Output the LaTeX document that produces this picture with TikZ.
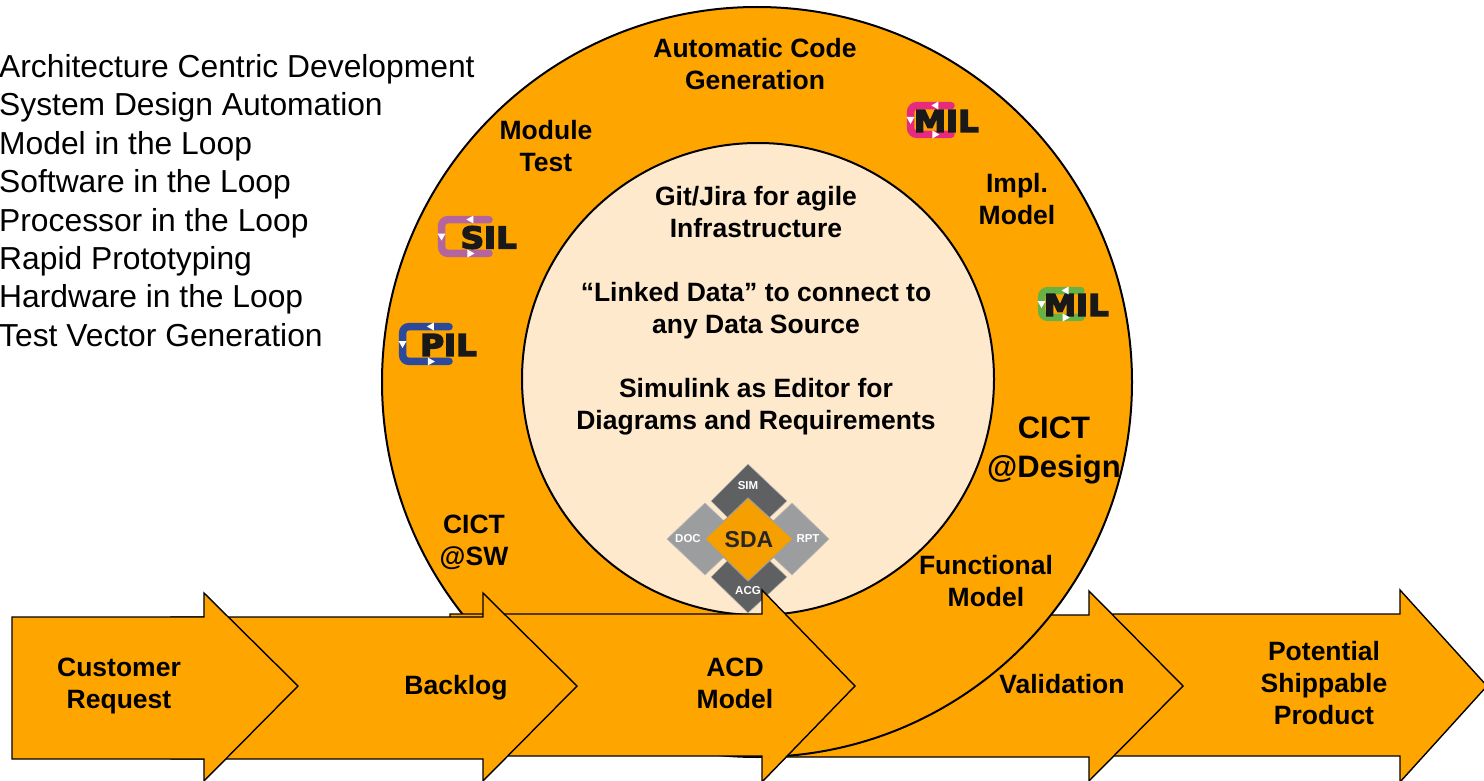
\documentclass[tikz,border=0pt]{standalone}
\usepackage{fontspec}
\setmainfont{Liberation Sans}
\newfontfamily\badgefont[BoldFeatures={FakeBold=5}]{DejaVu Sans}
\definecolor{ringorange}{HTML}{FFA500}
\definecolor{corecream}{HTML}{FFE9CC}
\definecolor{sdaorange}{HTML}{F5A000}
\definecolor{sdadark}{HTML}{5F6062}
\definecolor{sdalight}{HTML}{9C9D9F}
\definecolor{silpurple}{HTML}{B5659E}
\definecolor{pilblue}{HTML}{2B4A9B}
\definecolor{milpink}{HTML}{E62A7E}
\definecolor{milgreen}{HTML}{66B245}
\tikzset{
    flowarrow/.style={draw=black, fill=ringorange, line width=1.4pt, line join=miter},
    ring/.style={draw=black, line width=2pt},
    boldlabel/.style={align=center, inner sep=0pt, font=\bfseries\fontsize{26.5}{32}\selectfont},
    biglabel/.style={align=center, inner sep=0pt, font=\bfseries\fontsize{31}{39}\selectfont},
    sdacell/.style={draw=sdalight!70, line width=0.6pt},
    sdalabel/.style={text=white, inner sep=0pt, font=\bfseries\fontsize{11.5}{12}\selectfont},
    badgetext/.style={inner sep=0pt, anchor=east, text=black!90, xscale=1.08, font=\badgefont\bfseries\fontsize{30}{30}\selectfont},
    looptip/.style={fill=white, draw=none},
}
% loop badge: name, x, y, width, height, colour, text
\newcommand{\loopbadge}[7]{
    \begin{scope}[shift={(#2,#3)}]
        \draw[#6, line width=7.5pt, rounded corners=6pt, line cap=round]
            (#4-4,3.7) -- (3.7,3.7) -- (3.7,#5-3.7) -- (#4-4,#5-3.7);
        \node[badgetext] (#1) at (#4+24,#5/2+1) {#7};
        \fill[looptip] (0.59*#4-4,3.5) -- (0.59*#4+3,-0.5) -- (0.59*#4+3,7.5) -- cycle;
        \fill[looptip] (-0.5,#5/2-3) -- (7.5,#5/2-3) -- (3.5,#5/2+4) -- cycle;
        \fill[looptip] (0.59*#4+4,#5-3.5) -- (0.59*#4-3,#5+0.5) -- (0.59*#4-3,#5-7.5) -- cycle;
    \end{scope}
}
\begin{document}
\begin{tikzpicture}[x=1pt, y=-1pt]
    \useasboundingbox (0,0) rectangle (1484,781);
    % Back arrows
    \draw[flowarrow] (1113,614) -- (1400,614) -- (1400,590) -- (1487,686) -- (1400,782) -- (1400,756) -- (1113,756) -- cycle;
    \draw[flowarrow] (780,615) -- (1089,615) -- (1089,591) -- (1183,686) -- (1089,781) -- (1089,757) -- (780,757) -- cycle;
    % Rings
    \draw[ring, fill=ringorange] (757,382) circle (375pt);
    \draw[ring, fill=corecream] (758,379) circle (236pt);
    % Ring labels
    \node[boldlabel] (codegen) at (755,64) {Automatic Code\\Generation};
    \node[boldlabel] (moduletest) at (546,146) {Module\\Test};
    \node[boldlabel] (implmodel) at (1017,199) {Impl.\\Model};
    \node[boldlabel] (funcmodel) at (986,581) {Functional\\Model};
    \node[boldlabel] (cictsw) at (474,542) {CICT\\@SW};
    \node[biglabel] (cictdesign) at (1054,450) {CICT\\@Design};
    % Core labels
    \node[boldlabel] (gitjira) at (756,212) {Git/Jira for agile\\Infrastructure};
    \node[boldlabel] (linkeddata) at (756,311) {“Linked Data” to connect to\\any Data Source};
    \node[boldlabel] (simulink) at (756,407) {Simulink as Editor for\\Diagrams and Requirements};
    % Badges
    \loopbadge{milpinkbadge}{907}{102}{48}{36}{milpink}{MIL}
    \loopbadge{milgreenbadge}{1038}{287}{47}{34}{milgreen}{MIL}
    \loopbadge{silbadge}{438}{216}{55}{41}{silpurple}{SIL}
    \loopbadge{pilbadge}{399}{323}{54}{42}{pilblue}{PIL}
    % SDA diamond
    \fill[sdacell, fill=sdadark] (748,464) -- (787,501) -- (748,538) -- (711,501) -- cycle;
    \fill[sdacell, fill=sdadark] (748,540) -- (787,577) -- (748,613) -- (711,577) -- cycle;
    \fill[sdacell, fill=sdalight] (667,539) -- (705,503) -- (743,539) -- (705,575) -- cycle;
    \fill[sdacell, fill=sdalight] (829,539) -- (792,503) -- (754,539) -- (792,575) -- cycle;
    \draw[draw=sdalight, line width=1pt, fill=sdaorange] (748,498) -- (793,539) -- (748,581) -- (705,539) -- cycle;
    \node[inner sep=0pt, text=black!85, font=\bfseries\fontsize{23}{24}\selectfont] (sda) at (749,540) {SDA};
    \node[sdalabel] (sim) at (748,486) {SIM};
    \node[sdalabel] (doc) at (688,539) {DOC};
    \node[sdalabel] (rpt) at (808,539) {RPT};
    \node[sdalabel] (acg) at (748,591) {ACG};
    % Front arrows
    \draw[flowarrow] (450,614) -- (762,614) -- (762,590) -- (855,686) -- (762,782) -- (762,756) -- (450,756) -- cycle;
    \draw[flowarrow] (171,617) -- (483,617) -- (483,593) -- (577,686) -- (483,781) -- (483,759) -- (171,759) -- cycle;
    \draw[flowarrow] (12,617) -- (204,617) -- (204,593) -- (298,686) -- (204,781) -- (204,759) -- (12,759) -- cycle;
    % Arrow labels
    \node[boldlabel] (request) at (119,686) {Customer\\Request};
    \node[boldlabel] (backlog) at (456,688) {Backlog};
    \node[boldlabel] (acdmodel) at (735,683) {ACD\\Model};
    \node[boldlabel] (validation) at (1062,684) {Validation};
    \node[boldlabel] (shippable) at (1324,683) {Potential\\Shippable\\Product};
    % Abbreviation list
    \node[anchor=west, align=left, inner sep=0pt, font=\fontsize{31.8}{38.4}\selectfont] (abbrevlist) at (-1,200.5) {Architecture Centric Development\\System Design Automation\\Model in the Loop\\Software in the Loop\\Processor in the Loop\\Rapid Prototyping\\Hardware in the Loop\\Test Vector Generation};
\end{tikzpicture}
\end{document}
